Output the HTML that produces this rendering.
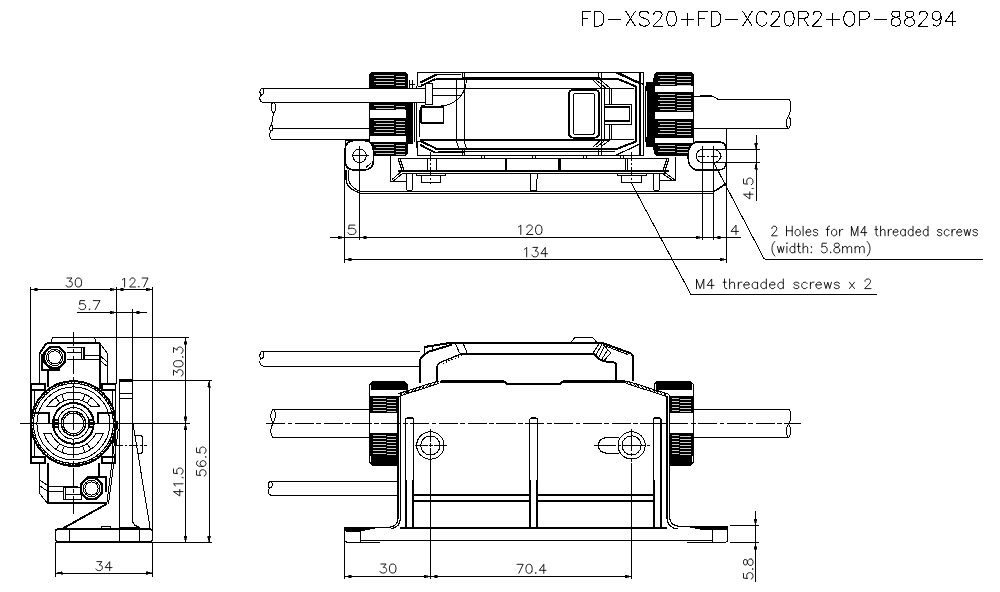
<!DOCTYPE html>
<html><head><meta charset="utf-8"><title>FD-XS20+FD-XC20R2+OP-88294</title>
<style>
html,body{margin:0;padding:0;background:#fff;font-family:"Liberation Sans",sans-serif;}
svg{display:block}
</style></head><body>
<svg width="1000" height="592" viewBox="0 0 1000 592" fill="none" stroke="#000" stroke-width="1" shape-rendering="crispEdges">
<rect x="0" y="0" width="1000" height="592" fill="#fff" stroke="none"/>
<path d="M262.5 88 H425 M263 102.4 H425" stroke-width="1"/>
<path d="M263 88 C259.5 88 259 94.5 261.5 95 C264 95.5 264.5 88.5 262 88" stroke-width="1"/>
<path d="M261.5 95 C259 96.5 259 101.5 263 102.4" stroke-width="1"/>
<path d="M272.5 128.4 H369.4 M271.5 139.6 H369.4" stroke-width="1"/>
<path d="M272.5 102.4 C270 106 271 110 273.5 113.5 C276.5 109 276 105 274.5 102.4" stroke-width="1"/>
<path d="M273.5 113.5 L271.5 125" stroke-width="1"/>
<path d="M272 125 C269.5 125.5 269 130.5 271 131 C273.5 131 273.5 125.5 272 125" stroke-width="1"/>
<path d="M271 131 C269 133 269 138.5 272 139.6" stroke-width="1"/>
<path d="M372.0 72.4L404.5 72.4L407 74.9L407 153.1L404.5 155.6L372.0 155.6L369.5 153.1L369.5 74.9Z" stroke-width="1.4" fill="#fff"/>
<rect x="370.0" y="73.4" width="36.5" height="14.099999999999994" stroke="none" fill="#000"/>
<path d="M373.5 75.5L394 75.5M395.5 76.5L404.5 76.5" stroke="#fff" stroke-width="0.8"/>
<path d="M375.5 78.5L394 78.5M395.5 79.5L404.5 79.5" stroke="#fff" stroke-width="0.8"/>
<path d="M373.5 81.5L394 81.5M395.5 82.5L404.5 82.5" stroke="#fff" stroke-width="0.8"/>
<path d="M375.5 84.5L394 84.5M395.5 85.5L404.5 85.5" stroke="#fff" stroke-width="0.8"/>
<rect x="370.0" y="103" width="36.5" height="7" stroke="none" fill="#000"/>
<path d="M373.5 105.5L394 105.5M395.5 106.5L404.5 106.5" stroke="#fff" stroke-width="0.8"/>
<path d="M375.5 108.5L394 108.5M395.5 109.5L404.5 109.5" stroke="#fff" stroke-width="0.8"/>
<rect x="370.0" y="118" width="36.5" height="17.5" stroke="none" fill="#000"/>
<path d="M373.5 120.5L394 120.5M395.5 121.5L404.5 121.5" stroke="#fff" stroke-width="0.8"/>
<path d="M375.5 123.5L394 123.5M395.5 124.5L404.5 124.5" stroke="#fff" stroke-width="0.8"/>
<path d="M373.5 126.5L394 126.5M395.5 127.5L404.5 127.5" stroke="#fff" stroke-width="0.8"/>
<path d="M375.5 129.5L394 129.5M395.5 130.5L404.5 130.5" stroke="#fff" stroke-width="0.8"/>
<path d="M373.5 132.5L394 132.5M395.5 133.5L404.5 133.5" stroke="#fff" stroke-width="0.8"/>
<rect x="370.0" y="142" width="36.5" height="12.800000000000011" stroke="none" fill="#000"/>
<path d="M373.5 144.5L394 144.5M395.5 145.5L404.5 145.5" stroke="#fff" stroke-width="0.8"/>
<path d="M375.5 147.5L394 147.5M395.5 148.5L404.5 148.5" stroke="#fff" stroke-width="0.8"/>
<path d="M373.5 150.5L394 150.5M395.5 151.5L404.5 151.5" stroke="#fff" stroke-width="0.8"/>
<path d="M375.5 153.5L394 153.5M395.5 154.5L404.5 154.5" stroke="#fff" stroke-width="0.8"/>
<rect x="408" y="103" width="4.5" height="41" stroke="none" fill="#000"/>
<path d="M407 78 V150 M414.5 103 V142 M416.5 86 V148" stroke-width="1"/>
<path d="M409 84 h6 M409 80 v8 M412 80 v8" stroke-width="1"/>
<rect x="369" y="88.5" width="57" height="13.4" stroke="none" fill="#fff"/>
<path d="M369 88 H425 M369 102.4 H425" stroke-width="1"/>
<path d="M417.6 72.4 H644 M417.6 155.6 H644" stroke-width="1.2"/>
<path d="M417.6 72.4 V86 M417.6 141 V155.6" stroke-width="1.6"/>
<path d="M462 72.4 V79 M464.4 72.4 V79 M462 148 V155.6 M464.4 148 V155.6 M598 72.4 V79 M601.6 72.4 V79 M598 148 V155.6 M601.6 148 V155.6" stroke-width="1"/>
<path d="M436 79 H618 L636 86.5 V141.5 L618 148.5 H435" stroke-width="2"/>
<path d="M448 88.6 H609 M462 77 H600" stroke-width="1"/>
<path d="M420 139.5 H610" stroke-width="2"/>
<path d="M438 151 H615" stroke-width="1"/>
<path d="M420.3 82.5 L436.3 74.5 M421 85.8 L435.5 79 M420.3 141 L436.3 148.6 M420 144.8 L435.5 152.8" stroke-width="2"/>
<path d="M436.3 74.5 H461 M435.5 152.8 H464" stroke-width="1"/>
<path d="M418 86 H421 M418 141 H421" stroke-width="1"/>
<path d="M466.5 80 Q 465 100 445.6 105.5 L421 108" stroke-width="1"/>
<path d="M433 95.5 H461.5 M432 88.6 H448" stroke-width="1"/>
<path d="M456 80 V140 M464 80 V140" stroke-width="1"/>
<path d="M456 140 Q 458 146 459 148 M464 140 Q 465 145 466.5 148" stroke-width="1"/>
<rect x="425.5" y="83.5" width="6.5" height="21" stroke-width="1" fill="#fff"/>
<path d="M421 107 H443.6 V123 H421 M421 107 V123" stroke-width="1.2"/>
<path d="M421 105 L425 105 M419 110 V137" stroke-width="1"/>
<rect x="569" y="90" width="30" height="47.6" stroke-width="2" rx="4"/>
<rect x="573.5" y="93" width="21" height="41.5" stroke-width="1" rx="2.5"/>
<path d="M593 80.2 L600.5 87.8 M596.3 80.2 L605.6 87.8 M600.5 80.2 L609.8 87.8 M593 147.2 L600.5 140 M596.3 147.2 L605.6 140 M600.5 147.2 L609.8 140" stroke-width="1"/>
<path d="M601.9 79 V148 M604.3 88.6 V139.3 M609 88.6 V139.3 M611.5 88.6 V139.3 M609 88.6 H634 M609 139.3 H634" stroke-width="1"/>
<path d="M604.4 104.3 H631.8 V124 H604.4Z" stroke-width="1" fill="#fff"/>
<path d="M605.3 107 H629.6 M605.3 121 H629.6" stroke-width="2"/>
<path d="M629.6 107 V121" stroke-width="1"/>
<path d="M615 72.4 L640 84 M618 72.4 L643.6 84.5" stroke-width="1.2"/>
<path d="M640 72.4 V155.6 M643.6 72.4 V155.6" stroke-width="1.6"/>
<path d="M615 155.6 L640 144 " stroke-width="1.2"/>
<path d="M646.5 82 Q649 114 646.5 146 L653.6 146 V82Z" stroke-width="1" fill="#000"/>
<path d="M645.5 86 V142 M653.6 78 V150" stroke-width="1"/>
<path d="M656.9 72.4L691.1 72.4L693.6 74.9L693.6 153.1L691.1 155.6L656.9 155.6L654.4 153.1L654.4 74.9Z" stroke-width="1.4" fill="#fff"/>
<rect x="654.9" y="73.4" width="38.200000000000045" height="12.599999999999994" stroke="none" fill="#000"/>
<path d="M658.4 75.5L675 75.5M676.5 76.5L691.1 76.5" stroke="#fff" stroke-width="0.8"/>
<path d="M660.4 78.5L675 78.5M676.5 79.5L691.1 79.5" stroke="#fff" stroke-width="0.8"/>
<path d="M658.4 81.5L675 81.5M676.5 82.5L691.1 82.5" stroke="#fff" stroke-width="0.8"/>
<path d="M660.4 84.5L675 84.5M676.5 85.5L691.1 85.5" stroke="#fff" stroke-width="0.8"/>
<rect x="654.9" y="92" width="38.200000000000045" height="20" stroke="none" fill="#000"/>
<path d="M658.4 94.5L675 94.5M676.5 95.5L691.1 95.5" stroke="#fff" stroke-width="0.8"/>
<path d="M660.4 97.5L675 97.5M676.5 98.5L691.1 98.5" stroke="#fff" stroke-width="0.8"/>
<path d="M658.4 100.5L675 100.5M676.5 101.5L691.1 101.5" stroke="#fff" stroke-width="0.8"/>
<path d="M660.4 103.5L675 103.5M676.5 104.5L691.1 104.5" stroke="#fff" stroke-width="0.8"/>
<path d="M658.4 106.5L675 106.5M676.5 107.5L691.1 107.5" stroke="#fff" stroke-width="0.8"/>
<path d="M660.4 109.5L675 109.5M676.5 110.5L691.1 110.5" stroke="#fff" stroke-width="0.8"/>
<rect x="654.9" y="119" width="38.200000000000045" height="18.599999999999994" stroke="none" fill="#000"/>
<path d="M658.4 121.5L675 121.5M676.5 122.5L691.1 122.5" stroke="#fff" stroke-width="0.8"/>
<path d="M660.4 124.5L675 124.5M676.5 125.5L691.1 125.5" stroke="#fff" stroke-width="0.8"/>
<path d="M658.4 127.5L675 127.5M676.5 128.5L691.1 128.5" stroke="#fff" stroke-width="0.8"/>
<path d="M660.4 130.5L675 130.5M676.5 131.5L691.1 131.5" stroke="#fff" stroke-width="0.8"/>
<path d="M658.4 133.5L675 133.5M676.5 134.5L691.1 134.5" stroke="#fff" stroke-width="0.8"/>
<rect x="654.9" y="143" width="38.200000000000045" height="11.800000000000011" stroke="none" fill="#000"/>
<path d="M658.4 145.5L675 145.5M676.5 146.5L691.1 146.5" stroke="#fff" stroke-width="0.8"/>
<path d="M660.4 148.5L675 148.5M676.5 149.5L691.1 149.5" stroke="#fff" stroke-width="0.8"/>
<path d="M658.4 151.5L675 151.5M676.5 152.5L691.1 152.5" stroke="#fff" stroke-width="0.8"/>
<path d="M693.6 96.5 H713 L718 99.2 H789 M693.6 128.4 H788.5" stroke-width="1"/>
<path d="M700 95.5 H712" stroke-width="1"/>
<path d="M789 99.2 C792 102 791.5 110 788.5 116 C785.5 120 786 127 788.5 128.4 C791.5 126 791.5 119 788.5 116" stroke-width="1"/>
<path d="M398 158.5 H669 M398 171 H669" stroke-width="1.2"/>
<path d="M402 173.6 H665" stroke-width="1"/>
<path d="M398 158.5 L402.5 172 M400 158.5 L404.5 172 M669 158.5 L664.5 172 M667 158.5 L662.5 172" stroke-width="1"/>
<path d="M506 158.5 V172 M559.6 158.5 V172" stroke-width="2.4"/>
<path d="M430.5 152 V184 M631.5 152 V184" stroke-width="1" stroke-dasharray="9 2 2 2"/>
<path d="M427.5 158.5 V172 M625.6 158.5 V172 M627.5 158.5 V172 M436 158.5 V172" stroke-width="1"/>
<path d="M481 155.6L481 158.5" stroke-width="1"/>
<path d="M484 155.6L484 158.5" stroke-width="1"/>
<path d="M532 155.6L532 158.5" stroke-width="1"/>
<path d="M535 155.6L535 158.5" stroke-width="1"/>
<path d="M583 155.6L583 158.5" stroke-width="1"/>
<path d="M586 155.6L586 158.5" stroke-width="1"/>
<path d="M620 155.6L620 158.5" stroke-width="1"/>
<path d="M623 155.6L623 158.5" stroke-width="1"/>
<path d="M390 155.6 V181.7 H406 M392 179.5 L401 171.8 M393.5 181 L402.5 173.4" stroke-width="1"/>
<path d="M675.8 157 V180.8 H660 M675.8 180.8 L664 172 M673.5 181 L662 173.4" stroke-width="1"/>
<path d="M416 173.5 H445 V175.5 H416Z M421 175.5 V182.5 H440 V175.5" stroke-width="1"/>
<path d="M617.6 173.5 H646.4 V175.5 H617.6Z M621.6 175.5 V182.5 H641.6 V175.5" stroke-width="1"/>
<path d="M406 174 L407 190 H412 L413 174 M653 174 L654 190 H659 L660 174" stroke-width="1"/>
<path d="M530 174 L530.6 190 H536.6 L537.2 174" stroke-width="1"/>
<path d="M360 191.5 H714 M360 193.5 H713" stroke-width="1"/>
<path d="M714 191.5 L726.4 183.5 V170" stroke-width="1.6"/>
<path d="M346 170 V180 Q 347 189 360 193" stroke-width="1.2"/>
<path d="M348.5 170 V180 Q 350 187 360 191.5" stroke-width="1"/>
<path d="M355 140.5 H363.4 Q373.4 140.5 373.4 150.5 V160 Q373.4 170 363.4 170 H355 Q345 170 345 160 V150.5 Q345 140.5 355 140.5Z" stroke-width="1.5" fill="#fff"/>
<circle cx="359.5" cy="155.8" r="6.8" stroke-width="1"/>
<path d="M352 155.8 H368.5 M359.5 146 V165" stroke-width="1"/>
<path d="M345 140.5 V150 M345 140.5 H369.4" stroke-width="1"/>
<path d="M366 167.5 L371.5 162.5" stroke-width="1"/>
<path d="M696 141.8 H718 Q726.4 141.8 726.4 150 V162 Q726.4 170 718 170 H696 Q688 168 688 156 Q688 145 696 141.8Z" stroke-width="1.5" fill="#fff"/>
<path d="M702.5 149.5 H714 A6.5 6.5 0 0 1 714 162.5 H702.5 A6.5 6.5 0 0 1 702.5 149.5Z" stroke-width="1"/>
<path d="M698 156 H722" stroke-width="1" stroke-dasharray="7 2 2 2"/>
<path d="M726.4 129 V150" stroke-width="1.2"/>
<path d="M52.5 337.5 L51 341.5 M94.2 337.5 L96 341.5 M53 337.5 H94" stroke-width="1"/>
<path d="M46.5 343 H99.7" stroke-width="2"/>
<path d="M46.5 343 L39.5 353.6" stroke-width="2"/>
<path d="M39.5 353.6 V384" stroke-width="1"/>
<path d="M42 353.6 V369.5 H59.6" stroke-width="2"/>
<path d="M99.5 343 V389" stroke-width="2"/>
<path d="M99.7 343 L107.5 353.6 V385" stroke-width="1"/>
<path d="M99.5 355.2 L107 361.8 M99.5 360.2 L107 366.2" stroke-width="1"/>
<path d="M47.5 369.5 V387" stroke-width="2"/>
<path d="M65.4 361.8L59.1 368.1L50.3 368.1L44.0 361.8L44.0 353.0L50.3 346.7L59.1 346.7L65.4 353.0Z" stroke-width="2" fill="#fff"/>
<circle cx="54.7" cy="357.4" r="10.2" stroke-width="1"/>
<circle cx="54.7" cy="357.4" r="8.2" stroke-width="1"/>
<circle cx="54.7" cy="357.4" r="6.6" stroke-width="1"/>
<path d="M66.8 347.5 H83.8 V359.5 H66.8" stroke-width="1.5"/>
<path d="M66.8 352 H81.5 M81.5 347.5 V359.5 M83.8 355.5 H99.5 M83.8 359.5 H99.5" stroke-width="1"/>
<path d="M31 384 H45 V390 H31Z M102 384 H115.6 V390 H102Z" stroke-width="1.4"/>
<path d="M31 384 V462 M115.6 384 V462" stroke-width="1.4"/>
<path d="M31 457 H45 V463 H31Z M102 457 H115.6 V463 H102Z" stroke-width="1.4"/>
<path d="M34 390 V457 M112.6 390 V457" stroke-width="1"/>
<circle cx="73.4" cy="423.4" r="42.3" stroke-width="2" fill="#fff"/>
<circle cx="73.4" cy="423.4" r="40" stroke-width="1"/>
<circle cx="73.4" cy="423.4" r="41" stroke-width="1.6" stroke-dasharray="1.2 2.2"/>
<circle cx="73.4" cy="423.4" r="36.5" stroke-width="1"/>
<circle cx="73.4" cy="423.4" r="20.3" stroke-width="2"/>
<circle cx="73.4" cy="423.4" r="12.1" stroke-width="1.5"/>
<circle cx="73.4" cy="423.4" r="10.3" stroke-width="1"/>
<path d="M47.1 406.4A31.3 31.3 0 0 1 99.7 406.4L90.9 406.4A24.4 24.4 0 0 0 55.9 406.4Z" stroke-width="1"/>
<path d="M102.9 433.79999999999995A31.3 31.3 0 0 1 43.9 433.79999999999995L51.3 433.79999999999995A24.4 24.4 0 0 0 95.5 433.79999999999995Z" stroke-width="1"/>
<path d="M59.8 403.2L55.9 397.5" stroke-width="1"/>
<path d="M64.3 400.8L61.7 394.4" stroke-width="1"/>
<path d="M82.5 400.8L85.1 394.4" stroke-width="1"/>
<path d="M87.0 403.2L90.9 397.5" stroke-width="1"/>
<path d="M87.0 443.6L90.9 449.3" stroke-width="1"/>
<path d="M82.5 446.0L85.1 452.4" stroke-width="1"/>
<path d="M64.3 446.0L61.7 452.4" stroke-width="1"/>
<path d="M59.8 443.6L55.9 449.3" stroke-width="1"/>
<circle cx="73.4" cy="423.4" r="15.7" stroke-width="1"/>
<path d="M31 413 H48.9 V423 M115.6 413 H97.8 V423" stroke-width="1.5"/>
<rect x="53" y="418.5" width="5.5" height="9.5" stroke="none" fill="#000"/>
<rect x="88.4" y="418.5" width="5.5" height="9.5" stroke="none" fill="#000"/>
<path d="M54.5 421.5 H58 M54.5 425.5 H58 M89.5 421.5 H93 M89.5 425.5 H93" stroke-width="1" stroke="#fff"/>
<path d="M68 463 H79 V466 H68Z" stroke-width="1"/>
<rect x="114.7" y="420.7" width="3.5" height="8" stroke="none" fill="#000"/>
<rect x="113" y="434.5" width="3" height="8" stroke="none" fill="#000"/>
<path d="M39.5 463 V493.4 L47.5 503.3" stroke-width="1"/>
<path d="M47.5 463 V503.3 H107.4" stroke-width="2"/>
<path d="M39.5 480.2 L47.5 485.2 M39.5 485.7 L47.5 491.2" stroke-width="1"/>
<path d="M47.5 486.5 H77.7 M47.5 491.8 H63.5" stroke-width="1"/>
<path d="M98.5 463 V477" stroke-width="2"/>
<path d="M116.7 425 L106.8 503.8 M118.3 429 L108.5 503.8" stroke-width="1"/>
<path d="M86.5 477 H105.7 V492.3" stroke-width="2"/>
<path d="M102.2 492.9L95.9 499.2L87.1 499.2L80.8 492.9L80.8 484.1L87.1 477.8L95.9 477.8L102.2 484.1Z" stroke-width="2" fill="#fff"/>
<circle cx="91.5" cy="488.5" r="10.2" stroke-width="1"/>
<circle cx="91.5" cy="488.5" r="8.2" stroke-width="1"/>
<circle cx="91.5" cy="488.5" r="6.6" stroke-width="1"/>
<path d="M63.5 487.5 H81.5 V499.5 H63.5Z" stroke-width="1.5"/>
<path d="M65.5 487.5 V499.5 M65.5 494 H81.5" stroke-width="1"/>
<path d="M119.4 380.4 H132.5 V520 Q133 526 140 527.5" stroke-width="1.2"/>
<path d="M119.4 380.4 V541" stroke-width="1.2"/>
<path d="M119.4 380.4 H132.5" stroke-width="2.4"/>
<path d="M119.4 393 H132.5 M119.4 398 L132.5 399" stroke-width="1"/>
<path d="M133 423.4 L150 527.5" stroke-width="1"/>
<path d="M134.5 435.5 H140 Q142.5 435.5 142.5 438.5 V450.5 Q142.5 453.6 139.5 453.6 H137.5" stroke-width="1"/>
<path d="M114 445.4L147 445.4" stroke-width="1" stroke-dasharray="9 2 2 2" stroke-dashoffset="0"/>
<path d="M62 529 L107 503.8" stroke-width="2"/>
<path d="M60 529.5 L66 526.5" stroke-width="1"/>
<path d="M58 529 H150 Q152.4 529 152.4 531.5 V539 Q152.4 541.5 150 541.5 H58 Q55.6 541.5 55.6 539 V531.5 Q55.6 529 58 529Z" stroke-width="1.4"/>
<path d="M56 542.5 H152" stroke-width="1"/>
<path d="M69 529 V541.5 M119.4 529 V541.5 M139.4 529 V541.5" stroke-width="1"/>
<path d="M100 529 L102 526.5 H110 V529 M119.4 527 H140" stroke-width="1"/>
<path d="M73.4 332L73.4 514" stroke-width="1" stroke-dasharray="18 3 4 3" stroke-dashoffset="4"/>
<path d="M20 423.4L190 423.4" stroke-width="1"/>
<path d="M262.5 351 H420 M263 366 H420" stroke-width="1"/>
<path d="M263 351 C259.5 351 259 358 261.5 358.5 C264 359 264.5 351.5 262 351" stroke-width="1"/>
<path d="M261.5 358.5 C259 360 259 365 263 366" stroke-width="1"/>
<path d="M273 409.4 H369.4 M273 437.6 H369.4" stroke-width="1"/>
<path d="M273 409.4 C269.5 413 270.5 419 273 423.4 C276 419 276 413 274 409.4" stroke-width="1"/>
<path d="M273 423.4 C270 428 270 434 273 437.6" stroke-width="1"/>
<path d="M271 481 H398 M271.5 495.6 H398" stroke-width="1"/>
<path d="M271.5 481 C268 481 267.5 487.5 270 488 C272.5 488.5 273 481.5 270.5 481" stroke-width="1"/>
<path d="M270 488 C267.5 489.5 267.5 494.5 271.5 495.6" stroke-width="1"/>
<path d="M693.6 409.4 H789 M693.6 437.6 H788.5" stroke-width="1"/>
<path d="M789 409.4 C792 412 791.5 419 788.5 424 C785.5 428 786 436 788.5 437.6 C791.5 435 791.5 428 788.5 424" stroke-width="1"/>
<path d="M372.5 381.6H404L407 384.6V462L404 465H372.5L369.5 462V384.6Z" stroke-width="1.4" fill="#fff"/>
<rect x="371.0" y="382.1" width="34.5" height="8" stroke="none" fill="#000"/>
<rect x="370.0" y="395.5" width="28.0" height="17.0" stroke="none" fill="#000"/>
<path d="M372.5 398.0L385.5 398.0M386.5 399.0L395.5 399.0" stroke="#fff" stroke-width="0.8"/>
<path d="M372.5 401.0L385.5 401.0M386.5 402.0L395.5 402.0" stroke="#fff" stroke-width="0.8"/>
<path d="M372.5 404.0L385.5 404.0M386.5 405.0L395.5 405.0" stroke="#fff" stroke-width="0.8"/>
<path d="M372.5 407.0L385.5 407.0M386.5 408.0L395.5 408.0" stroke="#fff" stroke-width="0.8"/>
<path d="M372.5 410.0L385.5 410.0M386.5 411.0L395.5 411.0" stroke="#fff" stroke-width="0.8"/>
<rect x="370.0" y="433" width="28.0" height="22.5" stroke="none" fill="#000"/>
<path d="M372.5 435.5L385.5 435.5M386.5 436.5L395.5 436.5" stroke="#fff" stroke-width="0.8"/>
<path d="M372.5 438.5L385.5 438.5M386.5 439.5L395.5 439.5" stroke="#fff" stroke-width="0.8"/>
<path d="M372.5 441.5L385.5 441.5M386.5 442.5L395.5 442.5" stroke="#fff" stroke-width="0.8"/>
<path d="M372.5 444.5L385.5 444.5M386.5 445.5L395.5 445.5" stroke="#fff" stroke-width="0.8"/>
<path d="M372.5 447.5L385.5 447.5M386.5 448.5L395.5 448.5" stroke="#fff" stroke-width="0.8"/>
<path d="M372.5 450.5L385.5 450.5M386.5 451.5L395.5 451.5" stroke="#fff" stroke-width="0.8"/>
<path d="M372.5 453.5L385.5 453.5M386.5 454.5L395.5 454.5" stroke="#fff" stroke-width="0.8"/>
<rect x="371.0" y="456" width="27.0" height="8.5" stroke="none" fill="#000"/>
<path d="M657.4 381.6H690.6L693.6 384.6V462L690.6 465H657.4L654.4 462V384.6Z" stroke-width="1.4" fill="#fff"/>
<rect x="655.9" y="382.1" width="36.200000000000045" height="8" stroke="none" fill="#000"/>
<rect x="669.6" y="395.5" width="23.5" height="17.0" stroke="none" fill="#000"/>
<path d="M672.1 398.0L678.85 398.0M679.85 399.0L690.6 399.0" stroke="#fff" stroke-width="0.8"/>
<path d="M672.1 401.0L678.85 401.0M679.85 402.0L690.6 402.0" stroke="#fff" stroke-width="0.8"/>
<path d="M672.1 404.0L678.85 404.0M679.85 405.0L690.6 405.0" stroke="#fff" stroke-width="0.8"/>
<path d="M672.1 407.0L678.85 407.0M679.85 408.0L690.6 408.0" stroke="#fff" stroke-width="0.8"/>
<path d="M672.1 410.0L678.85 410.0M679.85 411.0L690.6 411.0" stroke="#fff" stroke-width="0.8"/>
<rect x="669.6" y="433" width="23.5" height="22.5" stroke="none" fill="#000"/>
<path d="M672.1 435.5L678.85 435.5M679.85 436.5L690.6 436.5" stroke="#fff" stroke-width="0.8"/>
<path d="M672.1 438.5L678.85 438.5M679.85 439.5L690.6 439.5" stroke="#fff" stroke-width="0.8"/>
<path d="M672.1 441.5L678.85 441.5M679.85 442.5L690.6 442.5" stroke="#fff" stroke-width="0.8"/>
<path d="M672.1 444.5L678.85 444.5M679.85 445.5L690.6 445.5" stroke="#fff" stroke-width="0.8"/>
<path d="M672.1 447.5L678.85 447.5M679.85 448.5L690.6 448.5" stroke="#fff" stroke-width="0.8"/>
<path d="M672.1 450.5L678.85 450.5M679.85 451.5L690.6 451.5" stroke="#fff" stroke-width="0.8"/>
<path d="M672.1 453.5L678.85 453.5M679.85 454.5L690.6 454.5" stroke="#fff" stroke-width="0.8"/>
<rect x="669.6" y="456" width="22.5" height="8.5" stroke="none" fill="#000"/>
<path d="M399 396 L439.5 382.5 H626 L668.5 397 V519 Q669 526 680 526.5 H727.6 V541.5 H344.4 V527.5 H391 Q398.5 526 399 519Z" stroke-width="1" fill="#fff" stroke="none"/>
<path d="M398.5 396.5 Q398 397 398 398 V519 Q397.5 526 389 527.5" stroke-width="1.2"/>
<path d="M400.4 395 V519 Q400 527 391 529" stroke-width="1.2"/>
<path d="M668.5 394.2 Q669.6 395 669.6 397 V518 Q670 525.5 680 526.5" stroke-width="1.2"/>
<path d="M667 396 V519 Q668 528 678 529" stroke-width="1.2"/>
<path d="M398.5 396.5 L439 383.4 M398 393.8 L438.5 380.8" stroke-width="1"/>
<path d="M626.5 380.8 L668.5 394.2 M626 383.4 L668 396.8" stroke-width="1"/>
<path d="M400.0 395.8L402.2 392.8" stroke-width="1"/>
<path d="M628.0 383.6L625.8 380.6" stroke-width="1"/>
<path d="M403.7 394.6L405.9 391.6" stroke-width="1"/>
<path d="M631.8 384.8L629.6 381.8" stroke-width="1"/>
<path d="M407.4 393.4L409.6 390.4" stroke-width="1"/>
<path d="M635.6 386.0L633.4 383.0" stroke-width="1"/>
<path d="M411.1 392.1L413.3 389.1" stroke-width="1"/>
<path d="M639.4 387.3L637.2 384.3" stroke-width="1"/>
<path d="M414.8 390.9L417.0 387.9" stroke-width="1"/>
<path d="M643.2 388.5L641.0 385.5" stroke-width="1"/>
<path d="M418.5 389.7L420.7 386.7" stroke-width="1"/>
<path d="M647.0 389.7L644.8 386.7" stroke-width="1"/>
<path d="M422.2 388.5L424.4 385.5" stroke-width="1"/>
<path d="M650.8 390.9L648.6 387.9" stroke-width="1"/>
<path d="M425.9 387.3L428.1 384.3" stroke-width="1"/>
<path d="M654.6 392.1L652.4 389.1" stroke-width="1"/>
<path d="M429.6 386.0L431.8 383.0" stroke-width="1"/>
<path d="M658.4 393.4L656.2 390.4" stroke-width="1"/>
<path d="M433.3 384.8L435.5 381.8" stroke-width="1"/>
<path d="M662.2 394.6L660.0 391.6" stroke-width="1"/>
<path d="M437.0 383.6L439.2 380.6" stroke-width="1"/>
<path d="M666.0 395.8L663.8 392.8" stroke-width="1"/>
<path d="M439.5 381.8 H505 L507 384 H560 L562 381.8 H626" stroke-width="2"/>
<path d="M441 380.3 H504 M563 380.3 H625" stroke-width="1"/>
<path d="M424.5 347 L451 342.8 H602 L630 353 Q633.4 354.5 633.4 359 V381" stroke-width="2"/>
<path d="M452 344.6 L429 351.6 L422.5 356 Q420 358 420 362 V382.5" stroke-width="2"/>
<path d="M424.5 347 V353 M432.6 345.8 V350.5" stroke-width="1"/>
<path d="M461 354 H593.8" stroke-width="1.8"/>
<path d="M461 354 L439.5 362.8 Q437 364 437 368 V381.5" stroke-width="1.4"/>
<path d="M462 355.6 L441 364.2" stroke-width="1.2" stroke-dasharray="1.6 1.6"/>
<path d="M455 343 L459.6 353 M463 343 L467 352.5" stroke-width="1"/>
<path d="M593.8 353.5 L599 359 L604.6 361.4 L614 362.4 Q616 363 616 366 V380.5" stroke-width="2"/>
<path d="M599 344 L593 353 M602 344.5 L595.4 355.7 M604.6 346 L598.5 358.4 M608 349.5 L601 360.4 M610.7 353 L604 360.8" stroke-width="1"/>
<path d="M602 343 L610.7 353 M606 346.2 L628 354.6" stroke-width="1"/>
<path d="M571 342.8 L575 337 H592.4 L597 342.8" stroke-width="1"/>
<path d="M419.4 366 V383" stroke-width="1"/>
<path d="M405.6 527.5 V419.5 Q405.6 418 407.1 418 H412.3 Q413.8 418 413.8 419.5 V527.5" stroke-width="1.2" fill="#fff"/>
<path d="M406.6 480 V527 M412.8 480 V527" stroke-width="1"/>
<path d="M529.8 527.5 V419.5 Q529.8 418 531.3 418 H535.9 Q537.4 418 537.4 419.5 V527.5" stroke-width="1.2" fill="#fff"/>
<path d="M530.8 480 V527 M536.4 480 V527" stroke-width="1"/>
<path d="M653.2 527.5 V419.5 Q653.2 418 654.7 418 H659.5 Q661 418 661 419.5 V527.5" stroke-width="1.2" fill="#fff"/>
<path d="M654.2 480 V527 M660 480 V527" stroke-width="1"/>
<path d="M414 494.8 H529.8 M414 501.2 H529.8 M537.4 494.8 H653.2 M537.4 501.2 H653.2" stroke-width="1.8"/>
<path d="M344.4 527.5 H391" stroke-width="1.2"/>
<path d="M400 528.2 H667" stroke-width="2.2"/>
<path d="M360 540.2 H712.4" stroke-width="1"/>
<path d="M344.4 527.5 V540 Q344.4 542 346.5 542 H380" stroke-width="1"/>
<path d="M360 529 V542" stroke-width="1"/>
<path d="M345 528 L375 528 L360 531 L346 531Z" stroke-width="1" fill="#000"/>
<path d="M680 526.5 H727.6 V540 Q727.6 542 725.5 542 H687" stroke-width="1"/>
<path d="M712.4 529 V542 M712.4 529.5 H727" stroke-width="1"/>
<path d="M687 526.5 H726 V529 H700Z" stroke-width="1" fill="#000"/>
<circle cx="430.4" cy="445.5" r="13.7" stroke-width="1"/>
<circle cx="430.4" cy="445.5" r="9.6" stroke-width="1"/>
<path d="M415 445.5 H447 M430.4 429 V461" stroke-width="1" stroke-dasharray="13 1.2 3.6 1.2"/>
<path d="M618.5 437.7 H606 A7.7 7.7 0 0 0 606 453.1 H618.5" stroke-width="1.2"/>
<circle cx="631.6" cy="445.4" r="13.6" stroke-width="1"/>
<circle cx="631.6" cy="445.4" r="9.6" stroke-width="1"/>
<path d="M594 445.4 H650 M631.6 429 V462" stroke-width="1" stroke-dasharray="22 2 3 2"/>
<path d="M266 423.4L801 423.4" stroke-width="1" stroke-dasharray="19.2 2.4 4.8 2.4" stroke-dashoffset="0"/>
<path d="M344.5 150L344.5 262.5" stroke-width="1"/>
<path d="M359.5 146L359.5 240" stroke-width="1"/>
<path d="M702.5 146L702.5 240" stroke-width="1"/>
<path d="M713.5 146L713.5 240" stroke-width="1"/>
<path d="M726.5 129L726.5 262.5" stroke-width="1"/>
<path d="M330 237.5L741 237.5" stroke-width="1"/>
<path d="M344.5 259.5L726.5 259.5" stroke-width="1"/>
<path d="M344.5 237.5L338.0 236.0L338.0 239.0Z" fill="#000" stroke-width="0.6"/>
<path d="M359.5 237.5L366.0 236.0L366.0 239.0Z" fill="#000" stroke-width="0.6"/>
<path d="M702.5 237.5L696.0 236.0L696.0 239.0Z" fill="#000" stroke-width="0.6"/>
<path d="M713.5 237.5L720.0 236.0L720.0 239.0Z" fill="#000" stroke-width="0.6"/>
<path d="M344.5 259.5L351.0 258.0L351.0 261.0Z" fill="#000" stroke-width="0.6"/>
<path d="M726.5 259.5L720.0 258.0L720.0 261.0Z" fill="#000" stroke-width="0.6"/>
<path d="M348.0 232.7L348.6 233.6L349.1 234.1L350.9 234.5L352.6 234.5L354.3 234.1L355.4 233.2L356.0 231.8L356.0 230.9L355.4 229.6L354.3 228.7L352.6 228.2L350.9 228.2L349.1 228.7L348.6 229.1L349.1 225.1L354.9 225.1" stroke-width="0.9" stroke-linejoin="round" stroke-linecap="round"/>
<path d="M518.5 226.9L519.4 226.4L520.8 225.1L520.8 234.5M526.8 227.3L526.8 226.9L527.3 226.0L527.7 225.5L528.6 225.1L530.5 225.1L531.4 225.5L531.9 226.0L532.3 226.9L532.3 227.8L531.9 228.7L530.9 230.0L526.3 234.5L532.8 234.5M541.5 232.7L540.6 234.1L539.2 234.5L538.3 234.5L536.9 234.1L536.0 232.7L535.5 230.5L535.5 229.1L536.0 226.9L536.9 225.5L538.3 225.1L539.2 225.1L540.6 225.5L541.5 226.9L542.0 229.1L542.0 230.5L541.5 232.7" stroke-width="0.9" stroke-linejoin="round" stroke-linecap="round"/>
<path d="M738.5 231.4L731.0 231.4L736.0 225.1L736.0 234.5" stroke-width="0.9" stroke-linejoin="round" stroke-linecap="round"/>
<path d="M524.5 249.2L525.4 248.7L526.7 247.4L526.7 256.8M532.9 247.4L537.8 247.4L535.1 251.0L536.4 251.0L537.3 251.4L537.8 251.9L538.2 253.2L538.2 254.1L537.8 255.5L536.9 256.4L535.6 256.8L534.2 256.8L532.9 256.4L532.5 255.9L532.0 255.0M547.5 253.7L540.9 253.7L545.3 247.4L545.3 256.8" stroke-width="0.9" stroke-linejoin="round" stroke-linecap="round"/>
<path d="M756 135L756 201" stroke-width="1"/>
<path d="M703 149.5L760 149.5" stroke-width="1"/>
<path d="M713 162.5L760 162.5" stroke-width="1"/>
<path d="M756 149.5L754.5 143.0L757.5 143.0Z" fill="#000" stroke-width="0.6"/>
<path d="M756 162.5L754.5 169.0L757.5 169.0Z" fill="#000" stroke-width="0.6"/>
<path d="M749.8 191.8L749.8 199.0L743.5 194.2L753.0 194.2M753.0 188.5L752.5 189.0L752.1 188.5L752.5 188.0L753.0 188.5M751.2 184.7L752.1 184.2L752.5 183.7L753.0 182.3L753.0 180.9L752.5 179.4L751.6 178.5L750.3 178.0L749.4 178.0L748.0 178.5L747.1 179.4L746.7 180.9L746.7 182.3L747.1 183.7L747.6 184.2L743.5 183.7L743.5 179.0" stroke-width="0.9" stroke-linejoin="round" stroke-linecap="round"/>
<path d="M30.5 287L30.5 384" stroke-width="1"/>
<path d="M116.5 287L116.5 384" stroke-width="1"/>
<path d="M152.5 287L152.5 529" stroke-width="1"/>
<path d="M132.5 309L132.5 380" stroke-width="1"/>
<path d="M30.5 289.5L152.5 289.5" stroke-width="1"/>
<path d="M30.5 289.5L37.0 288.0L37.0 291.0Z" fill="#000" stroke-width="0.6"/>
<path d="M116.5 289.5L110.0 288.0L110.0 291.0Z" fill="#000" stroke-width="0.6"/>
<path d="M116.5 289.5L123.0 288.0L123.0 291.0Z" fill="#000" stroke-width="0.6"/>
<path d="M152.5 289.5L146.0 288.0L146.0 291.0Z" fill="#000" stroke-width="0.6"/>
<path d="M66.9 278.0L72.0 278.0L69.2 281.4L70.6 281.4L71.5 281.9L72.0 282.3L72.4 283.6L72.4 284.4L72.0 285.7L71.0 286.6L69.7 287.0L68.3 287.0L66.9 286.6L66.5 286.1L66.0 285.3M81.1 285.3L80.2 286.6L78.8 287.0L77.9 287.0L76.6 286.6L75.6 285.3L75.2 283.1L75.2 281.9L75.6 279.7L76.6 278.4L77.9 278.0L78.8 278.0L80.2 278.4L81.1 279.7L81.6 281.9L81.6 283.1L81.1 285.3" stroke-width="0.9" stroke-linejoin="round" stroke-linecap="round"/>
<path d="M122.5 279.7L123.3 279.3L124.6 278.0L124.6 287.0M130.0 280.1L130.0 279.7L130.4 278.9L130.9 278.4L131.7 278.0L133.4 278.0L134.2 278.4L134.6 278.9L135.0 279.7L135.0 280.6L134.6 281.4L133.8 282.7L129.6 287.0L135.5 287.0M138.8 287.0L138.4 286.6L138.8 286.1L139.2 286.6L138.8 287.0M143.8 287.0L148.0 278.0L142.1 278.0" stroke-width="0.9" stroke-linejoin="round" stroke-linecap="round"/>
<path d="M79.0 307.9L79.5 308.7L80.0 309.2L81.4 309.6L82.8 309.6L84.2 309.2L85.2 308.3L85.7 307.0L85.7 306.2L85.2 304.9L84.2 304.0L82.8 303.6L81.4 303.6L80.0 304.0L79.5 304.5L80.0 300.6L84.7 300.6M89.5 309.6L89.0 309.2L89.5 308.7L90.0 309.2L89.5 309.6M95.2 309.6L100.0 300.6L93.3 300.6" stroke-width="0.9" stroke-linejoin="round" stroke-linecap="round"/>
<path d="M77 312.5L147 312.5" stroke-width="1"/>
<path d="M116.5 312.5L110.0 311.0L110.0 314.0Z" fill="#000" stroke-width="0.6"/>
<path d="M132.5 312.5L139.0 311.0L139.0 314.0Z" fill="#000" stroke-width="0.6"/>
<path d="M94 337.5L189 337.5" stroke-width="1"/>
<path d="M132 380.5L212 380.5" stroke-width="1"/>
<path d="M152.4 542.5L212 542.5" stroke-width="1"/>
<path d="M185.5 337.5L185.5 542.5" stroke-width="1"/>
<path d="M209 380.5L209 542.5" stroke-width="1"/>
<path d="M185.5 337.5L184.0 344.0L187.0 344.0Z" fill="#000" stroke-width="0.6"/>
<path d="M185.5 423.4L184.0 416.9L187.0 416.9Z" fill="#000" stroke-width="0.6"/>
<path d="M185.5 423.4L184.0 429.9L187.0 429.9Z" fill="#000" stroke-width="0.6"/>
<path d="M185.5 542.5L184.0 536.0L187.0 536.0Z" fill="#000" stroke-width="0.6"/>
<path d="M209 380.5L207.5 387.0L210.5 387.0Z" fill="#000" stroke-width="0.6"/>
<path d="M209 542.5L207.5 536.0L210.5 536.0Z" fill="#000" stroke-width="0.6"/>
<path d="M173.5 375.1L173.5 370.1L177.1 372.8L177.1 371.5L177.6 370.6L178.0 370.1L179.4 369.7L180.3 369.7L181.6 370.1L182.5 371.0L183.0 372.4L183.0 373.7L182.5 375.1L182.1 375.5L181.2 376.0M181.2 361.0L182.5 362.0L183.0 363.3L183.0 364.2L182.5 365.6L181.2 366.5L178.9 366.9L177.6 366.9L175.3 366.5L174.0 365.6L173.5 364.2L173.5 363.3L174.0 362.0L175.3 361.0L177.6 360.6L178.9 360.6L181.2 361.0M183.0 357.0L182.5 357.4L182.1 357.0L182.5 356.5L183.0 357.0M173.5 352.4L173.5 347.5L177.1 350.2L177.1 348.8L177.6 347.9L178.0 347.5L179.4 347.0L180.3 347.0L181.6 347.5L182.5 348.4L183.0 349.7L183.0 351.1L182.5 352.4L182.1 352.9L181.2 353.3" stroke-width="0.9" stroke-linejoin="round" stroke-linecap="round"/>
<path d="M179.8 489.4L179.8 496.0L173.5 491.6L183.0 491.6M175.3 485.9L174.9 485.1L173.5 483.8L183.0 483.8M183.0 477.6L182.5 478.1L182.1 477.6L182.5 477.2L183.0 477.6M181.2 474.1L182.1 473.7L182.5 473.2L183.0 471.9L183.0 470.6L182.5 469.3L181.6 468.4L180.3 468.0L179.4 468.0L178.0 468.4L177.1 469.3L176.7 470.6L176.7 471.9L177.1 473.2L177.6 473.7L173.5 473.2L173.5 468.9" stroke-width="0.9" stroke-linejoin="round" stroke-linecap="round"/>
<path d="M204.2 476.0L205.1 475.5L205.5 475.1L206.0 473.7L206.0 472.4L205.5 471.0L204.6 470.1L203.3 469.7L202.4 469.7L201.0 470.1L200.1 471.0L199.7 472.4L199.7 473.7L200.1 475.1L200.6 475.5L196.5 475.1L196.5 470.6M197.9 461.0L197.0 461.5L196.5 462.9L196.5 463.8L197.0 465.1L198.3 466.0L200.6 466.5L202.8 466.5L204.6 466.0L205.5 465.1L206.0 463.8L206.0 463.3L205.5 462.0L204.6 461.0L203.3 460.6L202.8 460.6L201.5 461.0L200.6 462.0L200.1 463.3L200.1 463.8L200.6 465.1L201.5 466.0L202.8 466.5M206.0 457.0L205.5 457.4L205.1 457.0L205.5 456.5L206.0 457.0M204.2 453.3L205.1 452.9L205.5 452.4L206.0 451.1L206.0 449.7L205.5 448.4L204.6 447.5L203.3 447.0L202.4 447.0L201.0 447.5L200.1 448.4L199.7 449.7L199.7 451.1L200.1 452.4L200.6 452.9L196.5 452.4L196.5 447.9" stroke-width="0.9" stroke-linejoin="round" stroke-linecap="round"/>
<path d="M55.5 542L55.5 577" stroke-width="1"/>
<path d="M152.5 542L152.5 577" stroke-width="1"/>
<path d="M55.5 573L152.5 573" stroke-width="1"/>
<path d="M55.5 573L62.0 571.5L62.0 574.5Z" fill="#000" stroke-width="0.6"/>
<path d="M152.5 573L146.0 571.5L146.0 574.5Z" fill="#000" stroke-width="0.6"/>
<path d="M96.9 561.6L101.9 561.6L99.2 565.0L100.6 565.0L101.5 565.5L101.9 565.9L102.4 567.2L102.4 568.0L101.9 569.3L101.0 570.2L99.7 570.6L98.3 570.6L96.9 570.2L96.5 569.7L96.0 568.9M112.0 567.6L105.1 567.6L109.7 561.6L109.7 570.6" stroke-width="0.9" stroke-linejoin="round" stroke-linecap="round"/>
<path d="M344.5 542L344.5 579" stroke-width="1"/>
<path d="M430.5 461L430.5 579" stroke-width="1"/>
<path d="M631.5 463L631.5 579" stroke-width="1"/>
<path d="M344.5 576.5L631.5 576.5" stroke-width="1"/>
<path d="M344.5 576.5L351.0 575.0L351.0 578.0Z" fill="#000" stroke-width="0.6"/>
<path d="M430.5 576.5L424.0 575.0L424.0 578.0Z" fill="#000" stroke-width="0.6"/>
<path d="M430.5 576.5L437.0 575.0L437.0 578.0Z" fill="#000" stroke-width="0.6"/>
<path d="M631.5 576.5L625.0 575.0L625.0 578.0Z" fill="#000" stroke-width="0.6"/>
<path d="M380.9 564.0L386.1 564.0L383.3 567.4L384.7 567.4L385.6 567.9L386.1 568.3L386.6 569.6L386.6 570.4L386.1 571.7L385.2 572.6L383.8 573.0L382.4 573.0L380.9 572.6L380.5 572.1L380.0 571.3M395.5 571.3L394.6 572.6L393.2 573.0L392.2 573.0L390.8 572.6L389.9 571.3L389.4 569.1L389.4 567.9L389.9 565.7L390.8 564.4L392.2 564.0L393.2 564.0L394.6 564.4L395.5 565.7L396.0 567.9L396.0 569.1L395.5 571.3" stroke-width="0.9" stroke-linejoin="round" stroke-linecap="round"/>
<path d="M518.8 573.3L523.2 564.3L517.0 564.3M531.7 571.6L530.8 572.9L529.5 573.3L528.6 573.3L527.3 572.9L526.4 571.6L525.9 569.4L525.9 568.2L526.4 566.0L527.3 564.7L528.6 564.3L529.5 564.3L530.8 564.7L531.7 566.0L532.2 568.2L532.2 569.4L531.7 571.6M535.7 573.3L535.3 572.9L535.7 572.4L536.2 572.9L535.7 573.3M546.0 570.3L539.3 570.3L543.8 564.3L543.8 573.3" stroke-width="0.9" stroke-linejoin="round" stroke-linecap="round"/>
<path d="M730 525.5L759 525.5" stroke-width="1"/>
<path d="M730 542.5L759 542.5" stroke-width="1"/>
<path d="M755.5 511L755.5 581.5" stroke-width="1"/>
<path d="M755.5 525.5L754.0 519.0L757.0 519.0Z" fill="#000" stroke-width="0.6"/>
<path d="M755.5 542.5L754.0 549.0L757.0 549.0Z" fill="#000" stroke-width="0.6"/>
<path d="M751.2 579.0L752.1 578.5L752.5 578.1L753.0 576.7L753.0 575.4L752.5 574.0L751.6 573.1L750.3 572.6L749.4 572.6L748.0 573.1L747.1 574.0L746.7 575.4L746.7 576.7L747.1 578.1L747.6 578.5L743.5 578.1L743.5 573.5M753.0 569.0L752.5 569.5L752.1 569.0L752.5 568.5L753.0 569.0M751.2 559.0L752.1 559.5L752.5 559.9L753.0 561.3L753.0 563.1L752.5 564.5L752.1 564.9L751.2 565.4L749.8 565.4L748.9 564.9L748.0 564.0L747.1 560.8L746.7 559.9L745.8 559.5L744.9 559.5L744.0 559.9L743.5 561.3L743.5 563.1L744.0 564.5L744.9 564.9L745.8 564.9L746.7 564.5L747.1 563.5L747.6 561.7L748.0 560.4L748.9 559.5L749.8 559.0L751.2 559.0" stroke-width="0.9" stroke-linejoin="round" stroke-linecap="round"/>
<path d="M590.9 11.2L582.0 11.2L582.0 26.0M582.0 18.2L587.5 18.2M603.9 16.8L603.2 14.7L602.5 13.3L601.1 11.9L599.1 11.2L594.3 11.2L594.3 26.0L599.1 26.0L601.1 25.3L602.5 23.9L603.2 22.5L603.9 20.4L603.9 16.8M608.7 19.7L621.0 19.7M625.8 11.2L635.3 26.0M625.8 26.0L635.3 11.2M649.0 13.3L647.6 11.9L645.6 11.2L642.9 11.2L640.8 11.9L639.4 13.3L639.4 14.7L640.1 16.1L640.8 16.8L642.2 17.5L646.3 19.0L647.6 19.7L648.3 20.4L649.0 21.8L649.0 23.9L647.6 25.3L645.6 26.0L642.9 26.0L640.8 25.3L639.4 23.9M653.8 14.7L653.8 14.0L654.5 12.6L655.2 11.9L656.5 11.2L659.3 11.2L660.6 11.9L661.3 12.6L662.0 14.0L662.0 15.4L661.3 16.8L659.9 19.0L653.1 26.0L662.7 26.0M675.7 23.2L674.3 25.3L672.3 26.0L670.9 26.0L668.8 25.3L667.5 23.2L666.8 19.7L666.8 17.5L667.5 14.0L668.8 11.9L670.9 11.2L672.3 11.2L674.3 11.9L675.7 14.0L676.4 17.5L676.4 19.7L675.7 23.2M681.1 19.7L693.4 19.7M687.3 13.3L687.3 26.0M707.8 11.2L698.9 11.2L698.9 26.0M698.9 18.2L704.4 18.2M720.8 16.8L720.1 14.7L719.4 13.3L718.1 11.9L716.0 11.2L711.2 11.2L711.2 26.0L716.0 26.0L718.1 25.3L719.4 23.9L720.1 22.5L720.8 20.4L720.8 16.8M725.6 19.7L737.9 19.7M742.7 11.2L752.2 26.0M742.7 26.0L752.2 11.2M766.6 14.7L765.9 13.3L764.6 11.9L763.2 11.2L760.5 11.2L759.1 11.9L757.7 13.3L757.0 14.7L756.4 16.8L756.4 20.4L757.0 22.5L757.7 23.9L759.1 25.3L760.5 26.0L763.2 26.0L764.6 25.3L765.9 23.9L766.6 22.5M771.4 14.7L771.4 14.0L772.1 12.6L772.8 11.9L774.1 11.2L776.9 11.2L778.2 11.9L778.9 12.6L779.6 14.0L779.6 15.4L778.9 16.8L777.5 19.0L770.7 26.0L780.3 26.0M793.3 23.2L791.9 25.3L789.9 26.0L788.5 26.0L786.4 25.3L785.1 23.2L784.4 19.7L784.4 17.5L785.1 14.0L786.4 11.9L788.5 11.2L789.9 11.2L791.9 11.9L793.3 14.0L794.0 17.5L794.0 19.7L793.3 23.2M798.7 18.2L804.9 18.2L806.9 17.5L807.6 16.8L808.3 15.4L808.3 14.0L807.6 12.6L806.9 11.9L804.9 11.2L798.7 11.2L798.7 26.0M803.5 18.2L808.3 26.0M813.1 14.7L813.1 14.0L813.8 12.6L814.5 11.9L815.8 11.2L818.6 11.2L819.9 11.9L820.6 12.6L821.3 14.0L821.3 15.4L820.6 16.8L819.3 19.0L812.4 26.0L822.0 26.0M826.8 19.7L839.1 19.7M832.9 13.3L832.9 26.0M854.8 16.8L854.1 14.7L853.4 13.3L852.1 11.9L850.7 11.2L848.0 11.2L846.6 11.9L845.2 13.3L844.6 14.7L843.9 16.8L843.9 20.4L844.6 22.5L845.2 23.9L846.6 25.3L848.0 26.0L850.7 26.0L852.1 25.3L853.4 23.9L854.1 22.5L854.8 20.4L854.8 16.8M859.6 19.0L865.7 19.0L867.8 18.2L868.5 17.5L869.2 16.1L869.2 14.0L868.5 12.6L867.8 11.9L865.7 11.2L859.6 11.2L859.6 26.0M874.0 19.7L886.3 19.7M900.6 23.2L899.9 24.6L899.3 25.3L897.2 26.0L894.5 26.0L892.4 25.3L891.7 24.6L891.0 23.2L891.0 21.1L891.7 19.7L893.1 18.2L897.9 16.8L899.3 16.1L899.9 14.7L899.9 13.3L899.3 11.9L897.2 11.2L894.5 11.2L892.4 11.9L891.7 13.3L891.7 14.7L892.4 16.1L893.8 16.8L896.5 17.5L898.6 18.2L899.9 19.7L900.6 21.1L900.6 23.2M914.3 23.2L913.6 24.6L912.9 25.3L910.9 26.0L908.1 26.0L906.1 25.3L905.4 24.6L904.7 23.2L904.7 21.1L905.4 19.7L906.8 18.2L911.6 16.8L912.9 16.1L913.6 14.7L913.6 13.3L912.9 11.9L910.9 11.2L908.1 11.2L906.1 11.9L905.4 13.3L905.4 14.7L906.1 16.1L907.5 16.8L910.2 17.5L912.2 18.2L913.6 19.7L914.3 21.1L914.3 23.2M919.1 14.7L919.1 14.0L919.8 12.6L920.4 11.9L921.8 11.2L924.5 11.2L925.9 11.9L926.6 12.6L927.3 14.0L927.3 15.4L926.6 16.8L925.2 19.0L918.4 26.0L928.0 26.0M932.8 23.9L933.4 25.3L935.5 26.0L936.9 26.0L938.9 25.3L940.3 23.2L941.0 19.7L941.0 16.1L940.3 13.3L938.9 11.9L936.9 11.2L936.2 11.2L934.1 11.9L932.8 13.3L932.1 15.4L932.1 16.1L932.8 18.2L934.1 19.7L936.2 20.4L936.9 20.4L938.9 19.7L940.3 18.2L941.0 16.1M956.0 21.1L945.7 21.1L952.6 11.2L952.6 26.0" stroke-width="1.0" stroke-linejoin="round" stroke-linecap="round"/>
<path d="M771.9 228.5L771.9 228.0L772.3 227.1L772.7 226.7L773.5 226.2L775.1 226.2L776.0 226.7L776.4 227.1L776.8 228.0L776.8 228.9L776.4 229.9L775.6 231.2L771.5 235.8L777.2 235.8M786.5 226.2L786.5 235.8M792.2 226.2L792.2 235.8M786.5 230.8L792.2 230.8M799.9 234.4L799.1 235.3L798.3 235.8L797.0 235.8L796.2 235.3L795.4 234.4L795.0 233.1L795.0 232.1L795.4 230.8L796.2 229.9L797.0 229.4L798.3 229.4L799.1 229.9L799.9 230.8L800.3 232.1L800.3 233.1L799.9 234.4M803.1 226.2L803.1 235.8M810.0 229.9L809.2 229.4L808.0 229.4L807.2 229.9L806.4 230.8L806.0 232.1L810.8 232.1L810.8 231.2L810.4 230.3L810.0 229.9M806.0 232.1L806.0 233.1L806.4 234.4L807.2 235.3L808.0 235.8L809.2 235.8L810.0 235.3L810.8 234.4M817.7 230.8L817.3 229.9L816.1 229.4L814.9 229.4L813.7 229.9L813.3 230.8L813.7 231.7L814.5 232.1L816.5 232.6L817.3 233.1L817.7 234.0L817.7 234.4L817.3 235.3L816.1 235.8L814.9 235.8L813.7 235.3L813.3 234.4M829.5 226.2L828.7 226.2L827.9 226.7L827.5 228.0L827.5 235.8M826.2 229.4L829.1 229.4M836.4 234.4L835.6 235.3L834.8 235.8L833.5 235.8L832.7 235.3L831.9 234.4L831.5 233.1L831.5 232.1L831.9 230.8L832.7 229.9L833.5 229.4L834.8 229.4L835.6 229.9L836.4 230.8L836.8 232.1L836.8 233.1L836.4 234.4M839.6 229.4L839.6 235.8M839.6 232.1L840.0 230.8L840.8 229.9L841.7 229.4L842.9 229.4M857.9 235.8L857.9 226.2L854.6 235.8L851.4 226.2L851.4 235.8M866.8 232.6L860.7 232.6L864.8 226.2L864.8 235.8M876.1 226.2L876.1 234.0L876.5 235.3L877.3 235.8L878.1 235.8M874.9 229.4L877.7 229.4M880.6 226.2L880.6 235.8M880.6 231.2L881.8 229.9L882.6 229.4L883.8 229.4L884.6 229.9L885.0 231.2L885.0 235.8M888.3 229.4L888.3 235.8M888.3 232.1L888.7 230.8L889.5 229.9L890.3 229.4L891.5 229.4M897.2 229.9L896.4 229.4L895.2 229.4L894.4 229.9L893.6 230.8L893.2 232.1L898.0 232.1L898.0 231.2L897.6 230.3L897.2 229.9M893.2 232.1L893.2 233.1L893.6 234.4L894.4 235.3L895.2 235.8L896.4 235.8L897.2 235.3L898.0 234.4M905.3 229.4L905.3 235.8M905.3 234.4L904.5 235.3L903.7 235.8L902.5 235.8L901.7 235.3L900.9 234.4L900.5 233.1L900.5 232.1L900.9 230.8L901.7 229.9L902.5 229.4L903.7 229.4L904.5 229.9L905.3 230.8M913.0 226.2L913.0 235.8M913.0 234.4L912.2 235.3L911.4 235.8L910.2 235.8L909.4 235.3L908.6 234.4L908.2 233.1L908.2 232.1L908.6 230.8L909.4 229.9L910.2 229.4L911.4 229.4L912.2 229.9L913.0 230.8M919.9 229.9L919.1 229.4L917.9 229.4L917.1 229.9L916.3 230.8L915.9 232.1L920.7 232.1L920.7 231.2L920.3 230.3L919.9 229.9M915.9 232.1L915.9 233.1L916.3 234.4L917.1 235.3L917.9 235.8L919.1 235.8L919.9 235.3L920.7 234.4M928.0 226.2L928.0 235.8M928.0 234.4L927.2 235.3L926.4 235.8L925.2 235.8L924.4 235.3L923.6 234.4L923.2 233.1L923.2 232.1L923.6 230.8L924.4 229.9L925.2 229.4L926.4 229.4L927.2 229.9L928.0 230.8M941.8 230.8L941.4 229.9L940.2 229.4L939.0 229.4L937.8 229.9L937.4 230.8L937.8 231.7L938.6 232.1L940.6 232.6L941.4 233.1L941.8 234.0L941.8 234.4L941.4 235.3L940.2 235.8L939.0 235.8L937.8 235.3L937.4 234.4M949.1 234.4L948.3 235.3L947.5 235.8L946.3 235.8L945.5 235.3L944.7 234.4L944.2 233.1L944.2 232.1L944.7 230.8L945.5 229.9L946.3 229.4L947.5 229.4L948.3 229.9L949.1 230.8M952.0 229.4L952.0 235.8M952.0 232.1L952.4 230.8L953.2 229.9L954.0 229.4L955.2 229.4M960.9 229.9L960.1 229.4L958.8 229.4L958.0 229.9L957.2 230.8L956.8 232.1L961.7 232.1L961.7 231.2L961.3 230.3L960.9 229.9M956.8 232.1L956.8 233.1L957.2 234.4L958.0 235.3L958.8 235.8L960.1 235.8L960.9 235.3L961.7 234.4M964.1 229.4L965.7 235.8L967.4 229.4L969.0 235.8L970.6 229.4M977.5 230.8L977.1 229.9L975.9 229.4L974.7 229.4L973.4 229.9L973.0 230.8L973.4 231.7L974.3 232.1L976.3 232.6L977.1 233.1L977.5 234.0L977.5 234.4L977.1 235.3L975.9 235.8L974.7 235.8L973.4 235.3L973.0 234.4" stroke-width="0.9" stroke-linejoin="round" stroke-linecap="round"/>
<path d="M774.9 256.0L774.1 255.1L773.2 253.7L772.4 251.9L772.0 249.6L772.0 247.8L772.4 245.5L773.2 243.7L774.1 242.3L774.9 241.4M777.4 246.4L779.1 252.8L780.7 246.4L782.4 252.8L784.0 246.4M786.9 246.4L786.9 252.8M786.9 243.7L786.5 243.2L786.9 242.7L787.4 243.2L786.9 243.7M794.8 243.2L794.8 252.8M794.8 251.4L794.0 252.3L793.2 252.8L791.9 252.8L791.1 252.3L790.3 251.4L789.9 250.1L789.9 249.1L790.3 247.8L791.1 246.9L791.9 246.4L793.2 246.4L794.0 246.9L794.8 247.8M798.6 243.2L798.6 251.0L799.0 252.3L799.8 252.8L800.7 252.8M797.3 246.4L800.2 246.4M803.1 243.2L803.1 252.8M803.1 248.2L804.4 246.9L805.2 246.4L806.5 246.4L807.3 246.9L807.7 248.2L807.7 252.8M811.4 247.3L811.0 246.9L811.4 246.4L811.9 246.9L811.4 247.3M811.4 252.8L811.0 252.3L811.4 251.9L811.9 252.3L811.4 252.8M821.4 251.0L821.8 251.9L822.2 252.3L823.5 252.8L824.7 252.8L826.0 252.3L826.8 251.4L827.2 250.1L827.2 249.1L826.8 247.8L826.0 246.9L824.7 246.4L823.5 246.4L822.2 246.9L821.8 247.3L822.2 243.2L826.4 243.2M830.6 252.8L830.1 252.3L830.6 251.9L831.0 252.3L830.6 252.8M839.7 251.0L839.3 251.9L838.9 252.3L837.6 252.8L835.9 252.8L834.7 252.3L834.3 251.9L833.9 251.0L833.9 249.6L834.3 248.7L835.1 247.8L838.0 246.9L838.9 246.4L839.3 245.5L839.3 244.6L838.9 243.7L837.6 243.2L835.9 243.2L834.7 243.7L834.3 244.6L834.3 245.5L834.7 246.4L835.5 246.9L837.2 247.3L838.4 247.8L839.3 248.7L839.7 249.6L839.7 251.0M842.6 246.4L842.6 252.8M842.6 248.2L843.8 246.9L844.7 246.4L845.9 246.4L846.7 246.9L847.2 248.2L847.2 252.8M847.2 248.2L848.4 246.9L849.2 246.4L850.5 246.4L851.3 246.9L851.7 248.2L851.7 252.8M855.1 246.4L855.1 252.8M855.1 248.2L856.3 246.9L857.1 246.4L858.4 246.4L859.2 246.9L859.6 248.2L859.6 252.8M859.6 248.2L860.9 246.9L861.7 246.4L862.9 246.4L863.8 246.9L864.2 248.2L864.2 252.8M867.1 241.4L867.9 242.3L868.8 243.7L869.6 245.5L870.0 247.8L870.0 249.6L869.6 251.9L868.8 253.7L867.9 255.1L867.1 256.0" stroke-width="0.9" stroke-linejoin="round" stroke-linecap="round"/>
<path d="M703.8 288.6L703.8 279.0L700.2 288.6L696.5 279.0L696.5 288.6M714.0 285.4L707.1 285.4L711.7 279.0L711.7 288.6M724.5 279.0L724.5 286.8L725.0 288.1L725.9 288.6L726.8 288.6M723.1 282.2L726.3 282.2M729.6 279.0L729.6 288.6M729.6 284.0L730.9 282.7L731.9 282.2L733.2 282.2L734.2 282.7L734.6 284.0L734.6 288.6M738.3 282.2L738.3 288.6M738.3 284.9L738.7 283.6L739.7 282.7L740.6 282.2L742.0 282.2M748.4 282.7L747.5 282.2L746.1 282.2L745.2 282.7L744.3 283.6L743.8 284.9L749.3 284.9L749.3 284.0L748.9 283.1L748.4 282.7M743.8 284.9L743.8 285.9L744.3 287.2L745.2 288.1L746.1 288.6L747.5 288.6L748.4 288.1L749.3 287.2M757.6 282.2L757.6 288.6M757.6 287.2L756.7 288.1L755.7 288.6L754.4 288.6L753.4 288.1L752.5 287.2L752.1 285.9L752.1 284.9L752.5 283.6L753.4 282.7L754.4 282.2L755.7 282.2L756.7 282.7L757.6 283.6M766.3 279.0L766.3 288.6M766.3 287.2L765.4 288.1L764.5 288.6L763.1 288.6L762.2 288.1L761.2 287.2L760.8 285.9L760.8 284.9L761.2 283.6L762.2 282.7L763.1 282.2L764.5 282.2L765.4 282.7L766.3 283.6M774.1 282.7L773.2 282.2L771.8 282.2L770.9 282.7L770.0 283.6L769.5 284.9L775.0 284.9L775.0 284.0L774.6 283.1L774.1 282.7M769.5 284.9L769.5 285.9L770.0 287.2L770.9 288.1L771.8 288.6L773.2 288.6L774.1 288.1L775.0 287.2M783.3 279.0L783.3 288.6M783.3 287.2L782.4 288.1L781.5 288.6L780.1 288.6L779.2 288.1L778.2 287.2L777.8 285.9L777.8 284.9L778.2 283.6L779.2 282.7L780.1 282.2L781.5 282.2L782.4 282.7L783.3 283.6M798.9 283.6L798.4 282.7L797.1 282.2L795.7 282.2L794.3 282.7L793.9 283.6L794.3 284.5L795.2 284.9L797.5 285.4L798.4 285.9L798.9 286.8L798.9 287.2L798.4 288.1L797.1 288.6L795.7 288.6L794.3 288.1L793.9 287.2M807.2 287.2L806.3 288.1L805.3 288.6L804.0 288.6L803.0 288.1L802.1 287.2L801.7 285.9L801.7 284.9L802.1 283.6L803.0 282.7L804.0 282.2L805.3 282.2L806.3 282.7L807.2 283.6M810.4 282.2L810.4 288.6M810.4 284.9L810.8 283.6L811.8 282.7L812.7 282.2L814.1 282.2M820.5 282.7L819.6 282.2L818.2 282.2L817.3 282.7L816.4 283.6L815.9 284.9L821.4 284.9L821.4 284.0L820.9 283.1L820.5 282.7M815.9 284.9L815.9 285.9L816.4 287.2L817.3 288.1L818.2 288.6L819.6 288.6L820.5 288.1L821.4 287.2M824.2 282.2L826.0 288.6L827.8 282.2L829.7 288.6L831.5 282.2M839.3 283.6L838.9 282.7L837.5 282.2L836.1 282.2L834.7 282.7L834.3 283.6L834.7 284.5L835.6 284.9L837.9 285.4L838.9 285.9L839.3 286.8L839.3 287.2L838.9 288.1L837.5 288.6L836.1 288.6L834.7 288.1L834.3 287.2M849.4 282.2L854.5 288.6M849.4 288.6L854.5 282.2M865.0 281.3L865.0 280.8L865.5 279.9L865.9 279.5L866.9 279.0L868.7 279.0L869.6 279.5L870.1 279.9L870.5 280.8L870.5 281.7L870.1 282.7L869.2 284.0L864.6 288.6L871.0 288.6" stroke-width="0.9" stroke-linejoin="round" stroke-linecap="round"/>
<path d="M764.5 259.5L982.5 259.5" stroke-width="1"/>
<path d="M691 294.5L877 294.5" stroke-width="1"/>
<path d="M631.6 183.6L691 294.5" stroke-width="1"/>
<path d="M714 163L764.5 259.5" stroke-width="1"/>
</svg>
</body></html>
